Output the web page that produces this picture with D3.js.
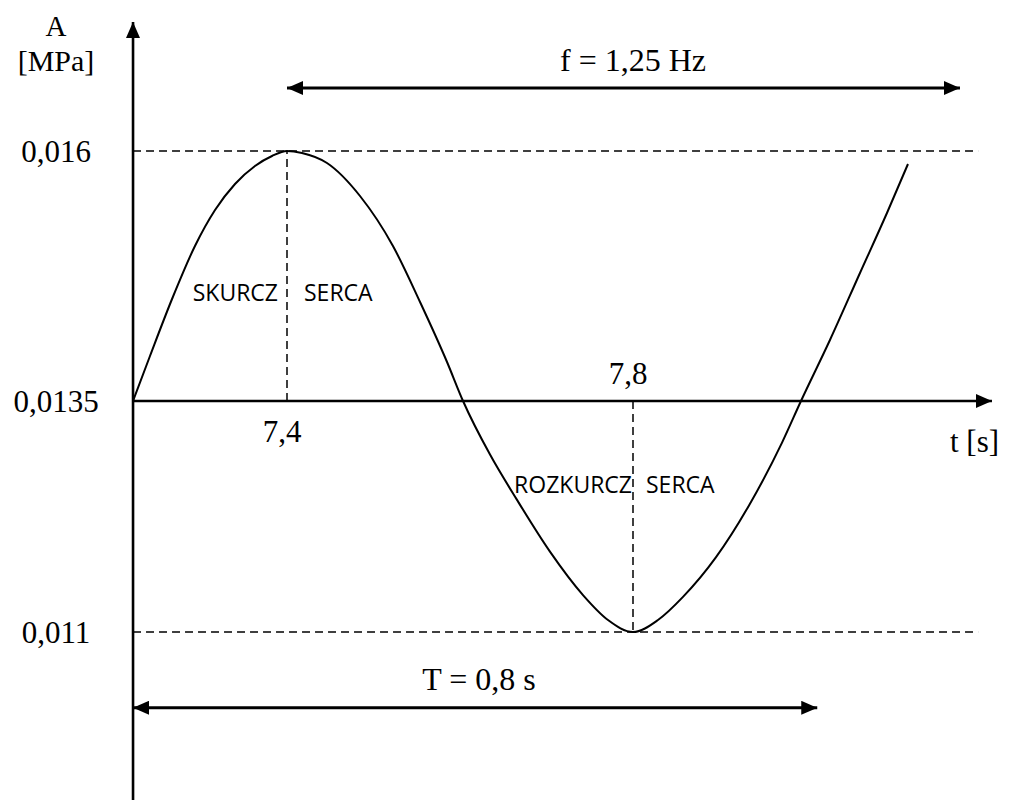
<!DOCTYPE html>
<html>
<head>
<meta charset="utf-8">
<script src="https://cdn.jsdelivr.net/npm/d3@7"></script>
<style>
  body { margin: 0; background: white; }
  text { font-family: "Liberation Serif", "Times New Roman", serif; fill: black; }
  .phase { font-family: "Open Sans", "Noto Sans", sans-serif; }
</style>
</head>
<body>
<div id="container"></div>
<script>
let w = 1012;
let h = 800;

// DATA
// time [s] of the points along the pressure curve
let times = [7.222, 7.2416, 7.2671, 7.2936, 7.3168, 7.3399, 7.363, 7.3827, 7.4,
             7.4173, 7.4462, 7.4844, 7.5225, 7.5538, 7.585, 7.6035,
             7.6347, 7.6659, 7.704, 7.7422, 7.7711, 7.8,
             7.8289, 7.8578, 7.896, 7.9341, 7.9723, 7.9942,
             8.0277, 8.0624, 8.0936, 8.1179];
// pressure A [MPa] at those times
let pressures = [0.0135, 0.01395, 0.01452, 0.01505, 0.01541, 0.01567, 0.01585, 0.01595, 0.016,
                 0.01598, 0.01588, 0.01555, 0.01505, 0.01449, 0.01389, 0.0135,
                 0.01292, 0.01243, 0.01187, 0.0114, 0.01113, 0.011,
                 0.01113, 0.01138, 0.01181, 0.01237, 0.01305, 0.0135,
                 0.01411, 0.01478, 0.01538, 0.01587];

let yTicks = [0.016, 0.0135, 0.011];
let yTickLabels = ["0,016", "0,0135", "0,011"];
let xMarks = [7.4, 7.8];
let xMarkLabels = ["7,4", "7,8"];
let phaseLabels = [["SKURCZ", "SERCA"], ["ROZKURCZ", "SERCA"]];

let tStart = 7.222;     // where the axes cross
let tEnd = 8.215;       // end of the time axis
let tDashEnd = 8.199;   // end of the dashed guide lines
let aTop = 0.01729;     // top of the A axis
let aBottom = 0.00918;  // bottom of the A axis

let periodArrow = [7.222, 8.013];  // T = 0,8 s
let periodLevel = 0.01018;
let periodLabel = "T = 0,8 s";
let freqArrow = [7.4, 8.178];      // f = 1,25 Hz
let freqLevel = 0.01663;
let freqLabel = "f = 1,25 Hz";

let curveData = times.map(function(t, i){
  return {t: t, a: pressures[i]};
});

// SCALES
let xScale = d3.scaleLinear().domain([7.4, 7.8]).range([287, 633]);
// the drawing is not evenly spaced above and below 0,0135
let yScale = d3.scaleLinear().domain([0.011, 0.0135, 0.016]).range([632, 401, 151]);

// SVG
let viz = d3.select("#container").append("svg")
    .attr("width", w)
    .attr("height", h)
    .style("background-color", "white")
;

// arrow heads
let defs = viz.append("defs");
defs.append("marker")
    .attr("id", "head")
    .attr("markerUnits", "userSpaceOnUse")
    .attr("viewBox", "0 0 16 14")
    .attr("refX", 16)
    .attr("refY", 7)
    .attr("markerWidth", 16)
    .attr("markerHeight", 14)
    .attr("orient", "auto-start-reverse")
  .append("path")
    .attr("d", "M0,0 L16,7 L0,14 Z")
    .attr("fill", "black")
;

// dashed guide lines at the max and min
viz.selectAll(".guideH").data([0.016, 0.011]).enter()
  .append("line")
    .attr("class", "guideH")
    .attr("x1", xScale(tStart))
    .attr("x2", xScale(tDashEnd))
    .attr("y1", function(d){ return yScale(d); })
    .attr("y2", function(d){ return yScale(d); })
    .attr("stroke", "black")
    .attr("stroke-width", 1.5)
    .attr("stroke-dasharray", "8,5")
;

// dashed verticals at the peak and the trough
viz.selectAll(".guideV").data(xMarks).enter()
  .append("line")
    .attr("class", "guideV")
    .attr("x1", function(d){ return xScale(d); })
    .attr("x2", function(d){ return xScale(d); })
    .attr("y1", function(d, i){ return yScale(0.0135); })
    .attr("y2", function(d, i){ return yScale(yTicks[i == 0 ? 0 : 2]); })
    .attr("stroke", "black")
    .attr("stroke-width", 1.5)
    .attr("stroke-dasharray", "8,5")
;

// axes
viz.append("line")
    .attr("x1", xScale(tStart))
    .attr("x2", xScale(tStart))
    .attr("y1", yScale(aBottom))
    .attr("y2", yScale(aTop))
    .attr("stroke", "black")
    .attr("stroke-width", 2.6)
    .attr("marker-end", "url(#head)")
;
viz.append("line")
    .attr("x1", xScale(tStart))
    .attr("x2", xScale(tEnd))
    .attr("y1", yScale(0.0135))
    .attr("y2", yScale(0.0135))
    .attr("stroke", "black")
    .attr("stroke-width", 2.6)
    .attr("marker-end", "url(#head)")
;

// the pressure curve
let lineMaker = d3.line()
    .x(function(d){ return xScale(d.t); })
    .y(function(d){ return yScale(d.a); })
    .curve(d3.curveMonotoneX)
;
viz.append("path")
    .datum(curveData)
    .attr("d", lineMaker)
    .attr("fill", "none")
    .attr("stroke", "black")
    .attr("stroke-width", 2)
;

// period and frequency arrows
viz.selectAll(".span").data([[periodArrow, periodLevel], [freqArrow, freqLevel]]).enter()
  .append("line")
    .attr("class", "span")
    .attr("x1", function(d){ return xScale(d[0][0]); })
    .attr("x2", function(d){ return xScale(d[0][1]); })
    .attr("y1", function(d){ return yScale(d[1]); })
    .attr("y2", function(d){ return yScale(d[1]); })
    .attr("stroke", "black")
    .attr("stroke-width", 3)
    .attr("marker-start", "url(#head)")
    .attr("marker-end", "url(#head)")
;

// TEXT
// A axis title
viz.append("text")
    .attr("x", 56)
    .attr("y", 36)
    .attr("text-anchor", "middle")
    .attr("font-size", 29)
    .text("A")
;
viz.append("text")
    .attr("x", 56)
    .attr("y", 71)
    .attr("text-anchor", "middle")
    .attr("font-size", 30)
    .text("[MPa]")
;

// A tick labels
viz.selectAll(".yLabel").data(yTicks).enter()
  .append("text")
    .attr("class", "yLabel")
    .attr("x", 56)
    .attr("y", function(d){ return yScale(d) + 11; })
    .attr("text-anchor", "middle")
    .attr("font-size", 31)
    .text(function(d, i){ return yTickLabels[i]; })
;

// time labels: 7,4 under the axis, 7,8 over it
viz.selectAll(".xLabel").data(xMarks).enter()
  .append("text")
    .attr("class", "xLabel")
    .attr("x", function(d){ return xScale(d) - 5; })
    .attr("y", function(d, i){ return i == 0 ? yScale(0.0135) + 41 : yScale(0.0135) - 17; })
    .attr("text-anchor", "middle")
    .attr("font-size", 31)
    .text(function(d, i){ return xMarkLabels[i]; })
;

viz.append("text")
    .attr("x", 950)
    .attr("y", 452)
    .attr("font-size", 31)
    .text("t [s]")
;

viz.append("text")
    .attr("x", 479)
    .attr("y", yScale(periodLevel) - 18)
    .attr("text-anchor", "middle")
    .attr("font-size", 32)
    .text(periodLabel)
;
viz.append("text")
    .attr("x", 633)
    .attr("y", yScale(freqLevel) - 17)
    .attr("text-anchor", "middle")
    .attr("font-size", 32)
    .text(freqLabel)
;

// phase labels either side of the dashed verticals
let phaseRows = [yScale(0.0135) - 100, yScale(0.0135) + 92];
viz.selectAll(".phaseL").data(xMarks).enter()
  .append("text")
    .attr("class", "phase")
    .attr("x", function(d, i){ return xScale(d) - (i == 0 ? 9 : 1); })
    .attr("y", function(d, i){ return phaseRows[i]; })
    .attr("text-anchor", "end")
    .attr("font-size", 23)
    .text(function(d, i){ return phaseLabels[i][0]; })
;
viz.selectAll(".phaseR").data(xMarks).enter()
  .append("text")
    .attr("class", "phase")
    .attr("x", function(d, i){ return xScale(d) + (i == 0 ? 17 : 13); })
    .attr("y", function(d, i){ return phaseRows[i]; })
    .attr("font-size", 23)
    .text(function(d, i){ return phaseLabels[i][1]; })
;
</script>
</body>
</html>
